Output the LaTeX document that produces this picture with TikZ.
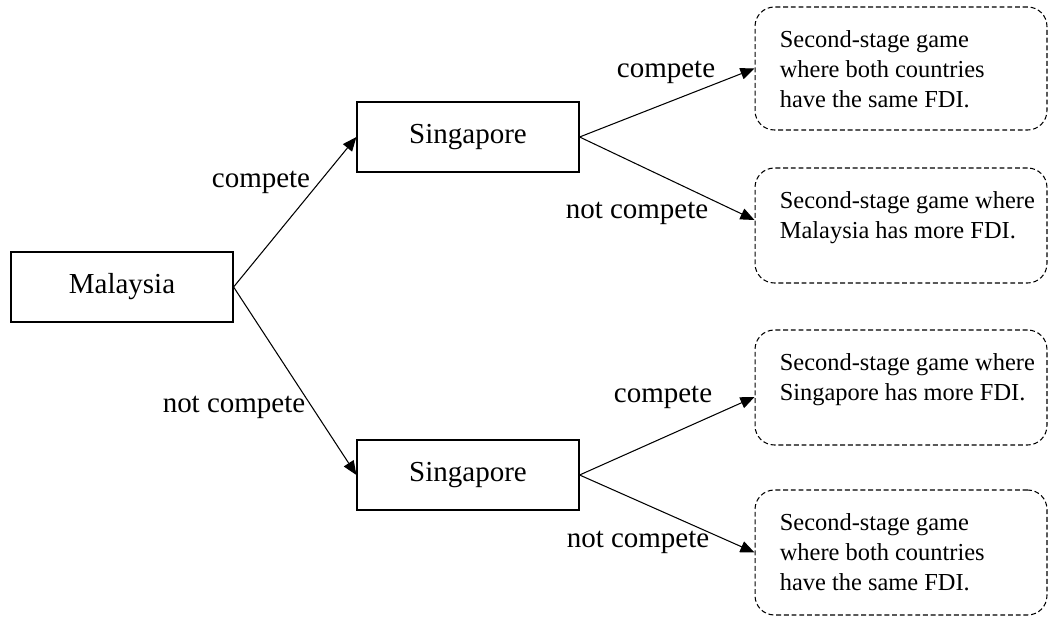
\documentclass[tikz,border=0pt]{standalone}
\usepackage{fontspec}
\setmainfont{Liberation Serif}
\usetikzlibrary{arrows.meta, positioning, calc}

\tikzset{
    player/.style={draw, line width=0.7pt, minimum width=4.44cm, minimum height=1.4cm,
        inner sep=0pt, font=\fontsize{16.5}{20}\selectfont},
    outcome/.style={draw, line width=0.6pt, dash pattern=on 2.8pt off 1.6pt,
        rounded corners=11pt, minimum width=5.84cm, inner sep=0pt},
    outtext/.style={anchor=north west, inner sep=0pt, align=left,
        font=\fontsize{13.9}{17.1}\selectfont},
    lbl/.style={inner sep=0pt, font=\fontsize{16.5}{20}\selectfont},
    move/.style={line width=0.6pt, -{Triangle[length=8pt, width=6.6pt]}}
}

\begin{document}
\begin{tikzpicture}[x=0.02cm, y=0.02cm]
    \useasboundingbox (0, 0) rectangle (1049, 616);

    % first stage
    \node[player] (mal) at (122, 329) {Malaysia};
    \node[player] (sgA) at (468, 479) {Singapore};
    \node[player] (sgB) at (468, 141) {Singapore};

    % second-stage games
    \node[outcome, minimum height=2.46cm] (o1) at (901, 547.5) {};
    \node[outcome, minimum height=2.3cm] (o2) at (901, 390.5) {};
    \node[outcome, minimum height=2.3cm] (o3) at (901, 228.5) {};
    \node[outcome, minimum height=2.5cm] (o4) at (901, 63.5) {};

    \node[outtext] (t1) at ([shift={(25, -24)}]o1.north west) {Second-stage game\\where both countries\\have the same FDI.};
    \node[outtext] (t2) at ([shift={(25, -24)}]o2.north west) {Second-stage game where\\Malaysia has more FDI.};
    \node[outtext] (t3) at ([shift={(25, -24)}]o3.north west) {Second-stage game where\\Singapore has more FDI.};
    \node[outtext] (t4) at ([shift={(25, -24)}]o4.north west) {Second-stage game\\where both countries\\have the same FDI.};

    % moves
    \draw[move] (mal.east) -- (sgA.west);
    \draw[move] (mal.east) -- (sgB.west);
    \draw[move] (sgA.east) -- (o1.west);
    \draw[move] (sgA.east) -- ([shift={(0, 5.5)}]o2.west);
    \draw[move] (sgB.east) -- ([shift={(0, -9.5)}]o3.west);
    \draw[move] (sgB.east) -- (o4.west);

    % labels
    \node[lbl] (l1) at (261, 434) {compete};
    \node[lbl] (l2) at (234, 209) {not compete};
    \node[lbl] (l3) at (666, 544) {compete};
    \node[lbl] (l4) at (637, 403) {not compete};
    \node[lbl] (l5) at (663, 219) {compete};
    \node[lbl] (l6) at (638, 74) {not compete};
\end{tikzpicture}
\end{document}
